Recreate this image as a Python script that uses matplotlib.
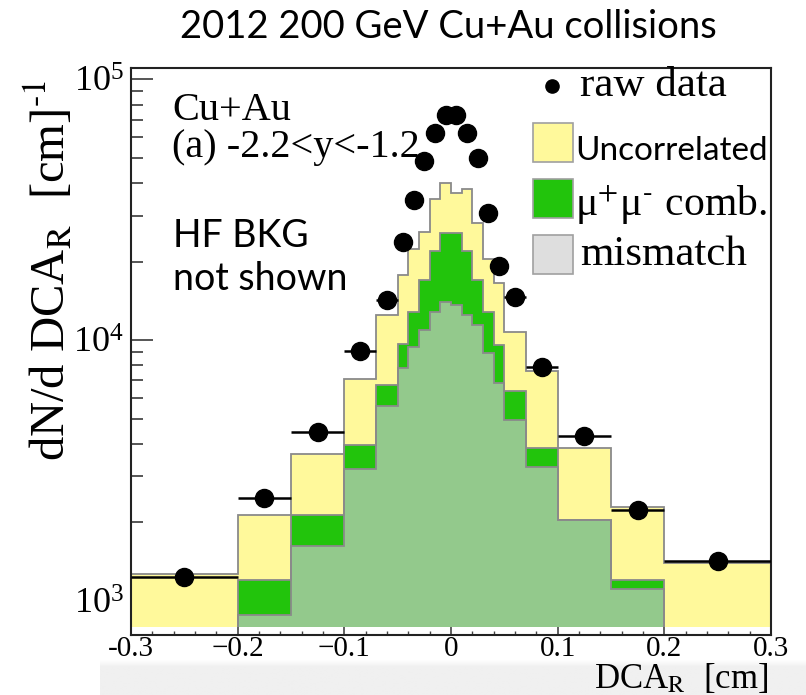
import matplotlib
matplotlib.use("Agg")
import matplotlib.pyplot as plt
from matplotlib.patches import Rectangle
from matplotlib.lines import Line2D
from matplotlib.ticker import MultipleLocator, FixedLocator, FixedFormatter, LogLocator
import numpy as np

# ---- data -----------------------------------------------------------------
# DCA_R bin edges [cm]
bin_edges = [-0.3, -0.2, -0.15, -0.1, -0.07, -0.05, -0.04, -0.03, -0.02, -0.01, 0.0,
             0.01, 0.02, 0.03, 0.04, 0.05, 0.07, 0.1, 0.15, 0.2, 0.3]

# measured dimuon yield per bin
raw_data = [1230, 2470, 4450, 9070, 14200, 23800, 34400, 48600, 62200, 73000,
            73000, 62200, 49900, 30700, 19200, 14600, 7900, 4280, 2230, 1420]

# background components (stacked: mismatch, then mu+mu- comb., then uncorrelated)
mismatch = [600, 880, 1620, 3200, 5580, 7790, 9430, 10920, 12840, 14030,
            13620, 12470, 11420, 8940, 6820, 4930, 3270, 2040, 1110, 600]
mumu_comb = [100, 320, 510, 760, 1140, 1860, 3430, 6070, 9110, 11640,
             12050, 9480, 5570, 3860, 2750, 1460, 570, 0, 90, 100]
uncorrelated = [570, 930, 1520, 3110, 5750, 8110, 9480, 9040, 12700, 14450,
                10860, 15890, 11040, 7600, 6930, 4340, 3780, 1800, 1090, 690]

x_ticks = [-0.3, -0.2, -0.1, 0.0, 0.1, 0.2, 0.3]
x_tick_labels = ["-0.3", "\u22120.2", "\u22120.1", "0", "0.1", "0.2", "0.3"]

# ---- style ----------------------------------------------------------------
plt.rcParams["font.family"] = ["Liberation Serif", "DejaVu Serif"]
plt.rcParams["mathtext.fontset"] = "stix"
SANS = ["Lato", "DejaVu Sans"]

C_YELLOW = "#fff99b"
C_GREEN = "#22c40c"
C_MISM = "#93c98c"
C_EDGE = "#8a8a8a"
C_FRAME = "#222222"

W, H = 806, 695
fig = plt.figure(figsize=(W / 100, H / 100), dpi=100)


def fx(px):
    return px / W


def fy(py):
    return 1 - py / H


# soft grey band along the bottom of the slide
band = fig.add_axes([fx(100), 0, 1 - fx(100), fy(660)], zorder=-10)
shade = np.concatenate([np.linspace(1.0, 0.94, 8), np.full(27, 0.94)])[:, None]
band.imshow(np.repeat(shade, 2, axis=1), cmap="gray", vmin=0, vmax=1,
            aspect="auto", interpolation="bilinear")
band.set_axis_off()

ax = fig.add_axes([fx(131), fy(635), fx(771) - fx(131), fy(68) - fy(635)])
ax.set_xlim(-0.3, 0.3)
ax.set_yscale("log")
ax.set_ylim(739, 1.105e5)
ax.set_axisbelow(True)

edges = np.array(bin_edges)
m = np.array(mismatch, dtype=float)
g = m + np.array(mumu_comb, dtype=float)
t = g + np.array(uncorrelated, dtype=float)

hist_floor = 793.0
clip = Rectangle((-0.3, hist_floor), 0.6, 1e7, transform=ax.transData)

for vals, col in [(t, C_YELLOW), (g, C_GREEN), (m, C_MISM)]:
    fill = ax.stairs(vals, edges, baseline=hist_floor, fill=True,
                     facecolor=col, edgecolor="none", zorder=1)
    fill.set_clip_path(clip)
    line = ax.stairs(vals, edges, baseline=None, fill=False,
                     color=C_EDGE, linewidth=1.3, zorder=1.1)
    line.set_clip_path(clip)

# raw data points with bin-width bars
centers = 0.5 * (edges[:-1] + edges[1:])
half_w = 0.5 * np.diff(edges)
ax.errorbar(centers, raw_data, xerr=half_w, fmt="o", color="black",
            markersize=13, elinewidth=1.8, capsize=0, zorder=3)

# frame and ticks
for s in ax.spines.values():
    s.set_linewidth(1.5)
    s.set_color(C_FRAME)

ax.xaxis.set_major_locator(FixedLocator(x_ticks))
ax.xaxis.set_major_formatter(FixedFormatter(x_tick_labels))
ax.xaxis.set_minor_locator(MultipleLocator(0.02))
ax.yaxis.set_major_locator(LogLocator(base=10, numticks=10))
ax.yaxis.set_minor_locator(LogLocator(base=10, subs=np.arange(2, 10), numticks=10))

ax.tick_params(axis="x", which="major", direction="in", length=5.5, width=1.2,
               color="#444444", labelsize=21, pad=1, top=False)
ax.tick_params(axis="x", which="minor", direction="in", length=3, width=1.0,
               color="#444444", top=False)
ax.tick_params(axis="y", which="major", direction="in", length=16, width=1.4,
               color="#555555", labelsize=26, pad=5, right=False)
ax.tick_params(axis="y", which="minor", direction="in", length=8.5, width=1.4,
               color="#555555", right=False)

# axis titles
fig.text(fx(49), fy(270), r"dN/d DCA$_{\mathrm{R}}$  [cm]$^{\text{-1}}$",
         rotation=90, ha="center", va="center", fontsize=35)
fig.text(fx(768), fy(688), r"DCA$_{\mathrm{R}}$  [cm]", ha="right", va="baseline",
         fontsize=25)

# slide title
fig.text(fx(448), fy(38), "2012 200 GeV Cu+Au collisions", ha="center", va="baseline",
         fontsize=27.5, family=SANS)

# annotations inside the frame
fig.text(fx(172), fy(120), "Cu+Au", ha="left", va="baseline", fontsize=29)
fig.text(fx(172), fy(157), "(a) -2.2<y<-1.2", ha="left", va="baseline", fontsize=29)
fig.text(fx(173), fy(247), "HF BKG", ha="left", va="baseline", fontsize=27, family=SANS)
fig.text(fx(173), fy(290), "not shown", ha="left", va="baseline", fontsize=27, family=SANS)

# legend
fig.add_artist(Line2D([fx(552)], [fy(86)], marker="o", markersize=9.5, color="black",
                      linestyle="none", transform=fig.transFigure))
fig.text(fx(580), fy(96), "raw data", ha="left", va="baseline", fontsize=31)

box_w, box_h = 40, 39
legend_boxes = [(123, C_YELLOW), (179, C_GREEN), (235, "#dedede")]
for top, col in legend_boxes:
    fig.add_artist(Rectangle((fx(533), fy(top + box_h)), box_w / W, box_h / H,
                             transform=fig.transFigure, facecolor=col,
                             edgecolor="#a0a0a0", linewidth=1.2))
fig.text(fx(575), fy(160), "Uncorrelated", ha="left", va="baseline", fontsize=24,
         family=SANS)
fig.text(fx(575), fy(216), r"μ$^{\text{+}}$μ$^{\text{-}}$ comb.", ha="left", va="baseline",
         fontsize=30)
fig.text(fx(580), fy(265), "mismatch", ha="left", va="baseline", fontsize=31)

fig.savefig("out.png", dpi=100)
